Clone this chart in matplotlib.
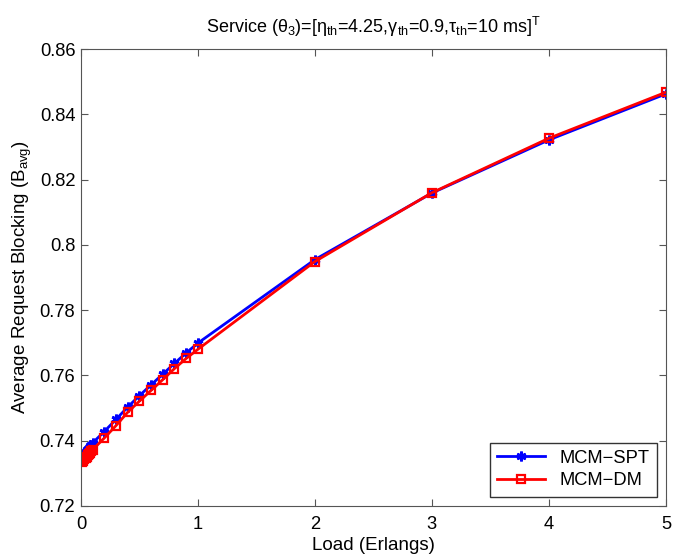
import matplotlib
matplotlib.use("Agg")
import matplotlib.pyplot as plt

plt.rcParams['font.family'] = ['Liberation Sans', 'DejaVu Sans']
plt.rcParams['mathtext.default'] = 'regular'

# Load values (Erlangs)
load = [0.01, 0.02, 0.03, 0.04, 0.05, 0.06, 0.07, 0.08, 0.09, 0.1,
        0.2, 0.3, 0.4, 0.5, 0.6, 0.7, 0.8, 0.9, 1.0, 2, 3, 4, 5]

# Average request blocking
spt = [0.7352, 0.7357, 0.7361, 0.7366, 0.7370, 0.7375, 0.7379, 0.7383, 0.7388, 0.7393,
       0.7428, 0.7465, 0.7503, 0.7538, 0.7571, 0.7604, 0.7637, 0.7669, 0.7699,
       0.7955, 0.8159, 0.8322, 0.8463]
dm = [0.7335, 0.7339, 0.7343, 0.7347, 0.7351, 0.7355, 0.7359, 0.7363, 0.7367, 0.7372,
      0.7408, 0.7446, 0.7487, 0.7521, 0.7554, 0.7587, 0.7621, 0.7652, 0.7680,
      0.7949, 0.8160, 0.8327, 0.8468]

fig = plt.figure(figsize=(6.74, 5.59), dpi=100)
ax = fig.add_axes([0.120, 0.095, 0.868, 0.817])

ax.plot(load, spt, color='blue', linewidth=2, marker=(6, 2, 0), markersize=7,
        markeredgewidth=2, label='MCM\u2212SPT')
ax.plot(load, dm, color='red', linewidth=2, marker='s', markersize=6,
        markerfacecolor='none', markeredgewidth=1.6, label='MCM\u2212DM')

ax.set_xlim(0, 5)
ax.set_ylim(0.72, 0.86)
ax.set_xticks([0, 1, 2, 3, 4, 5])
ax.set_yticks([0.72, 0.74, 0.76, 0.78, 0.8, 0.82, 0.84, 0.86])
ax.set_yticklabels(['0.72', '0.74', '0.76', '0.78', '0.8', '0.82', '0.84', '0.86'])
ax.tick_params(direction='in', top=True, right=True, labelsize=13.2,
               length=5, color='#555555')
ax.tick_params(axis='x', pad=7)
ax.tick_params(axis='y', pad=4)
for s in ax.spines.values():
    s.set_color('#555555')

ax.set_xlabel('Load (Erlangs)', fontsize=13.5, labelpad=3)
ax.set_ylabel('Average Request Blocking (B$_{avg}$)', fontsize=13.5, labelpad=4)
ax.set_title('Service (\u03b8$_3$)=[\u03b7$_{th}$=4.25,\u03b3$_{th}$=0.9,'
             '\u03c4$_{th}$=10 ms]$^T$', fontsize=13, pad=12)

leg = ax.legend(loc='lower right', fontsize=13.2, fancybox=False,
                edgecolor='#333333', framealpha=1, handlelength=2.6,
                borderaxespad=0.5, labelspacing=0.3)
leg.get_frame().set_linewidth(1)

fig.savefig('out.png', dpi=100)
